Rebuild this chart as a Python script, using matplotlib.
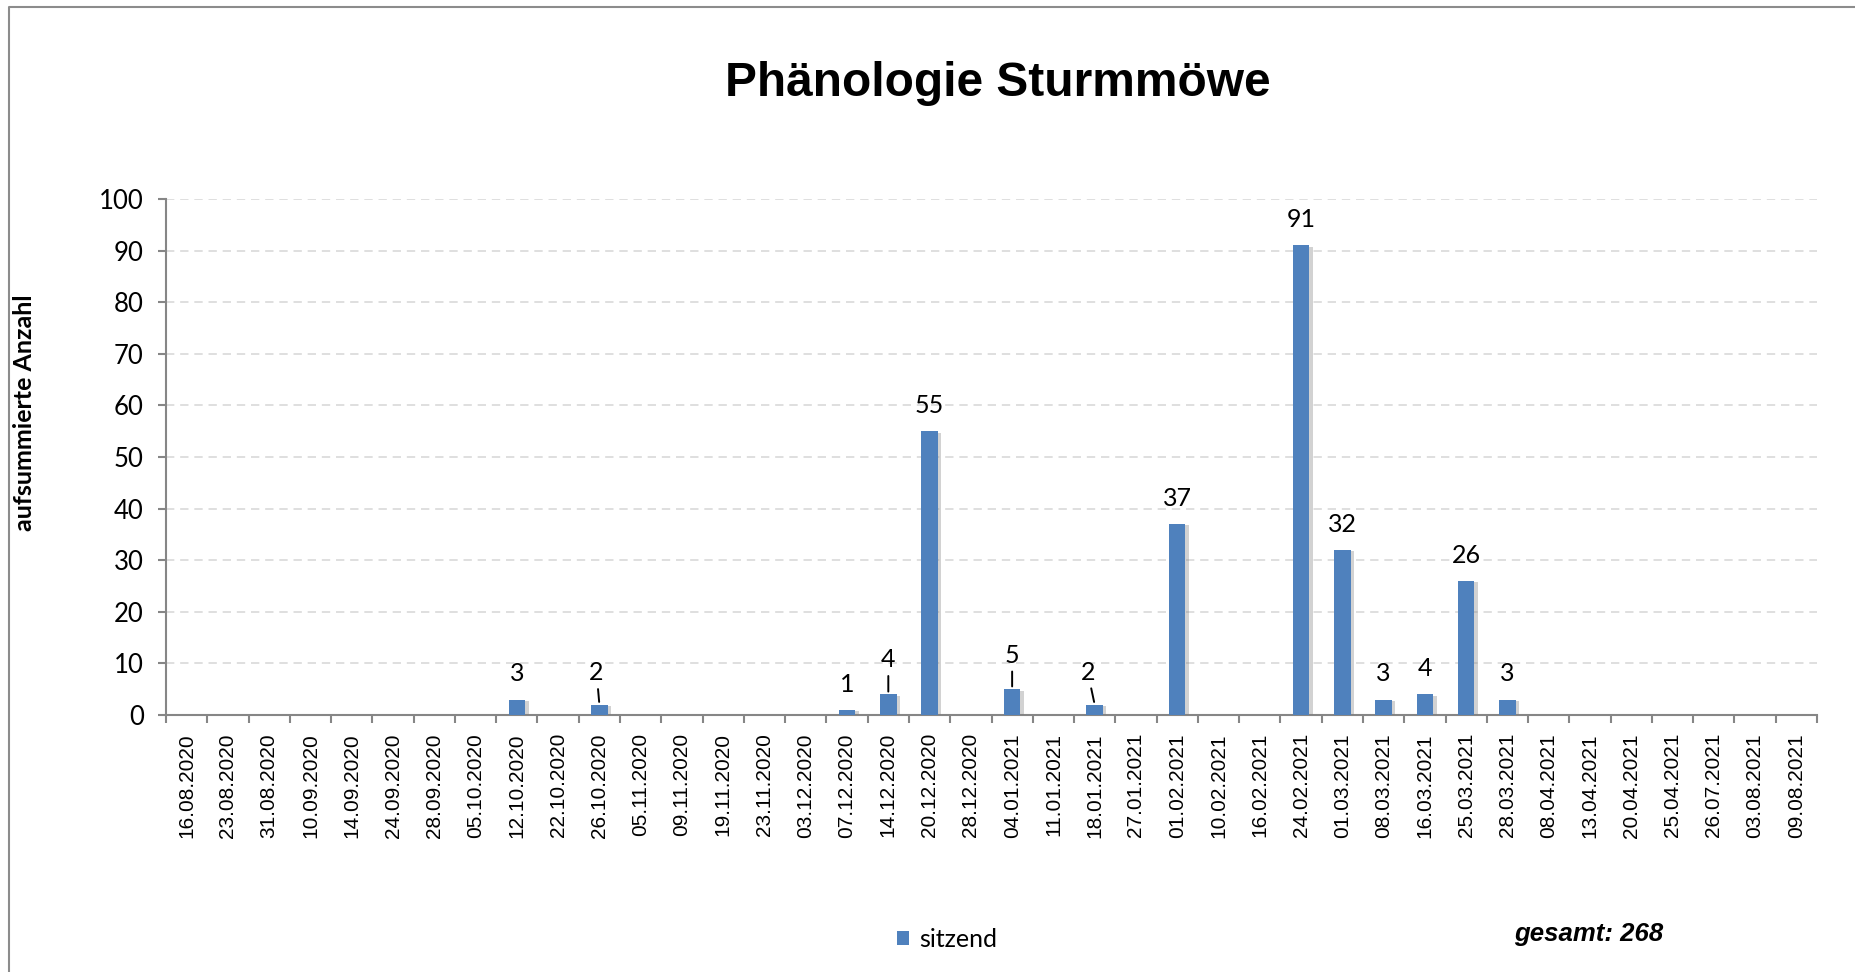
import numpy as np
import matplotlib
matplotlib.use('Agg')
import matplotlib.pyplot as plt
import matplotlib.patheffects as pe
from matplotlib.lines import Line2D
from matplotlib.patches import Patch

# Zähltermine und summierte Anzahl sitzender Sturmmöwen
dates = ['16.08.2020', '23.08.2020', '31.08.2020', '10.09.2020', '14.09.2020',
         '24.09.2020', '28.09.2020', '05.10.2020', '12.10.2020', '22.10.2020',
         '26.10.2020', '05.11.2020', '09.11.2020', '19.11.2020', '23.11.2020',
         '03.12.2020', '07.12.2020', '14.12.2020', '20.12.2020', '28.12.2020',
         '04.01.2021', '11.01.2021', '18.01.2021', '27.01.2021', '01.02.2021',
         '10.02.2021', '16.02.2021', '24.02.2021', '01.03.2021', '08.03.2021',
         '16.03.2021', '25.03.2021', '28.03.2021', '08.04.2021', '13.04.2021',
         '20.04.2021', '25.04.2021', '26.07.2021', '03.08.2021', '09.08.2021']
sitzend = [0, 0, 0, 0, 0, 0, 0, 0, 3, 0,
           2, 0, 0, 0, 0, 0, 1, 4, 55, 0,
           5, 0, 2, 0, 37, 0, 0, 91, 32, 3,
           4, 26, 3, 0, 0, 0, 0, 0, 0, 0]
yticks = [0, 10, 20, 30, 40, 50, 60, 70, 80, 90, 100]

# labels that Excel pushed up with a leader line: index -> (dx, dy) in points
leader = {10: (-2, 23), 17: (0, 25), 20: (0, 24.5), 22: (-5, 23.5)}

BLUE = '#4F81BD'
AXIS = '#868686'
CAL = ['Lato', 'DejaVu Sans']
ARIAL = ['Liberation Sans', 'DejaVu Sans']

fig = plt.figure(figsize=(18.56, 9.72), dpi=100)
ax = fig.add_axes([166 / 1856, 1 - 715 / 972, 1651 / 1856, 516 / 972])

x = np.arange(len(dates))
shadow = [pe.SimplePatchShadow(offset=(2.5, -1), shadow_rgbFace='#808080', alpha=0.35), pe.Normal()]
bars = ax.bar(x, sitzend, width=0.4, color=BLUE, zorder=3, path_effects=shadow)

for i, v in enumerate(sitzend):
    if v == 0:
        continue
    if i in leader:
        dx, dy = leader[i]
        ax.annotate(str(v), xy=(i, v), xytext=(dx, dy), textcoords='offset points',
                    ha='center', va='center', fontsize=18, family=CAL, zorder=5,
                    arrowprops=dict(arrowstyle='-', color='black', lw=1.4,
                                    shrinkA=1.5, shrinkB=2))
    else:
        ax.annotate(str(v), xy=(i, v), xytext=(0, 18.5), textcoords='offset points',
                    ha='center', va='center', fontsize=18, family=CAL, zorder=5)

ax.set_xlim(-0.5, len(dates) - 0.5)
ax.set_ylim(0, 100)
ax.set_yticks(yticks)
ax.set_yticklabels([str(t) for t in yticks], family=CAL, fontsize=18.5)
ax.set_xticks(x)
ax.set_xticklabels(dates, rotation=90, family=ARIAL, fontsize=15)
ax.set_xticks(np.arange(len(dates) + 1) - 0.5, minor=True)
ax.tick_params(axis='x', which='major', length=0, pad=13)
ax.tick_params(axis='x', which='minor', length=6, width=1.5, color=AXIS, direction='out')
ax.tick_params(axis='y', length=6, width=1.5, color=AXIS, pad=10)

ax.grid(axis='y', color='#D9D9D9', linestyle=(0, (5, 3.5)), linewidth=1.2, zorder=0)
for s in ['top', 'right']:
    ax.spines[s].set_visible(False)
for s in ['left', 'bottom']:
    ax.spines[s].set_color(AXIS)
    ax.spines[s].set_linewidth(1.5)

ax.set_ylabel('aufsummierte Anzahl', family=CAL, fontsize=18, fontweight='bold')
ax.yaxis.set_label_coords(-0.079, 0.585)

fig.text(998 / 1856, 1 - 83 / 972, 'Phänologie Sturmmöwe', ha='center', va='center',
         family=ARIAL, fontsize=34.5, fontweight='bold')

fig.legend(handles=[Patch(facecolor=BLUE, label='sitzend')], loc='center',
           bbox_to_anchor=(947 / 1856, 1 - 939 / 972), frameon=False,
           handlelength=0.5, handleheight=0.5, handletextpad=0.4,
           prop={'family': CAL, 'size': 18})

fig.text(1589 / 1856, 1 - 934 / 972, 'gesamt: 268', ha='center', va='center',
         family=ARIAL, fontsize=18.5, fontweight='bold', fontstyle='italic')

# outer chart frame (only left and top edge visible)
fig.add_artist(Line2D([9 / 1856, 9 / 1856, 1], [0, 1 - 7 / 972, 1 - 7 / 972],
                      transform=fig.transFigure, color='#8C8C8C', lw=1.5))

fig.savefig('out.png', dpi=100)
